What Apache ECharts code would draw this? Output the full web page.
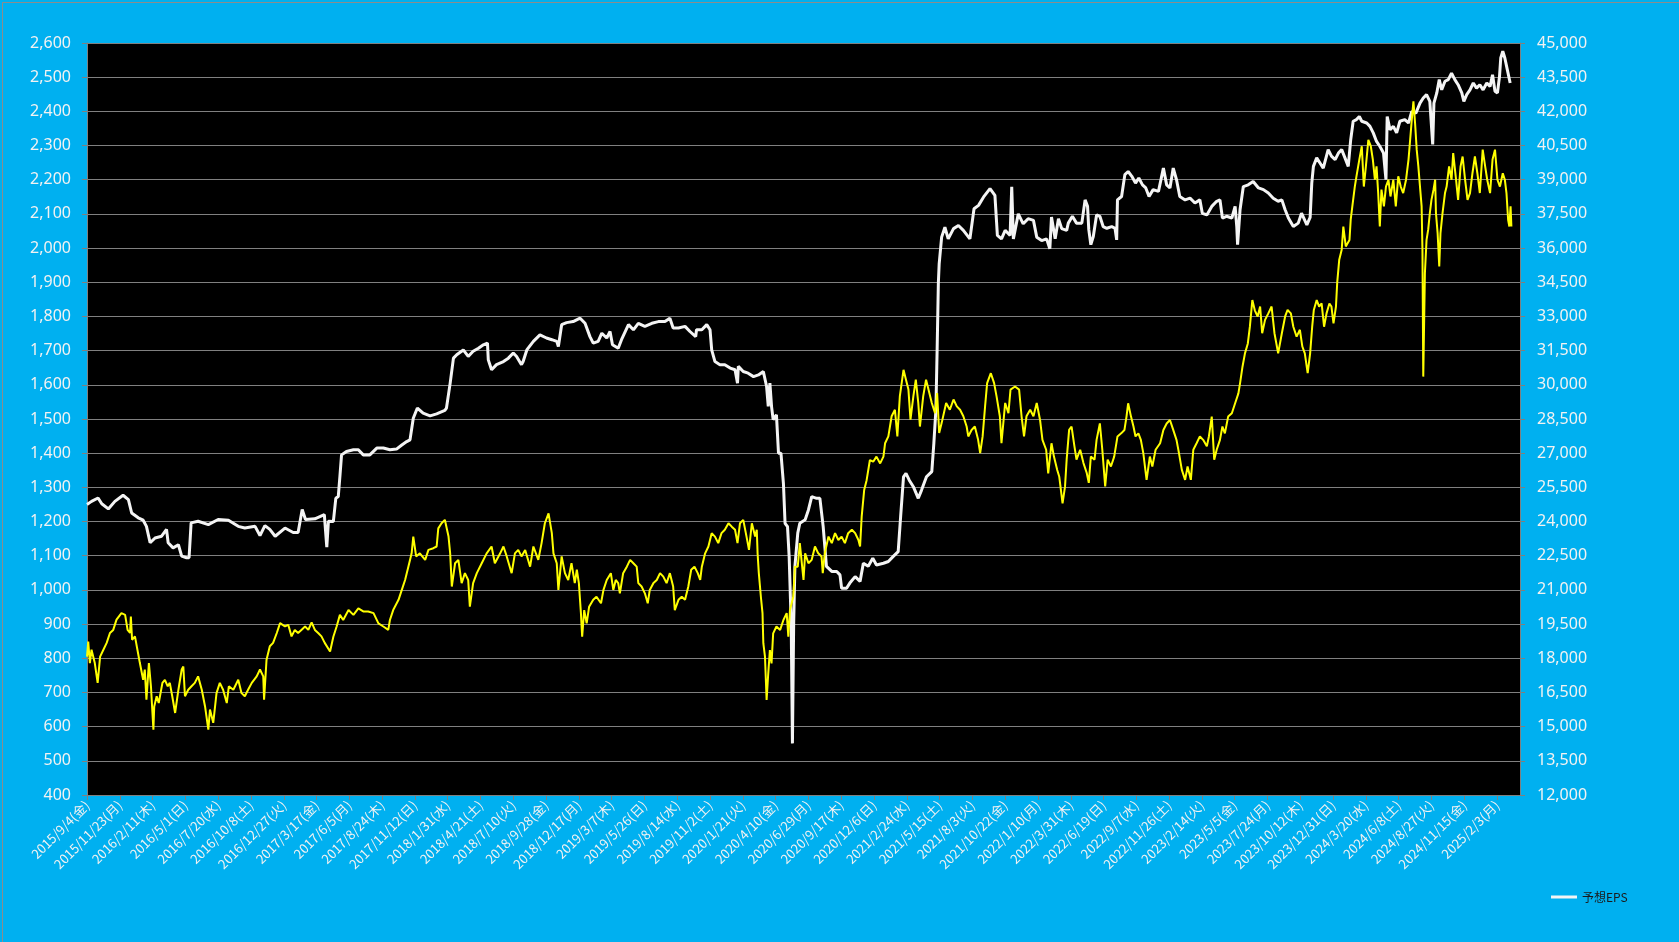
<!DOCTYPE html>
<html>
<head>
<meta charset="utf-8">
<script src="https://cdn.jsdelivr.net/npm/echarts@6/dist/echarts.min.js"></script>
<style>
html,body{margin:0;padding:0;background:#00b0f0;}
#c{width:1679px;height:942px;}
</style>
</head>
<body>
<div id="c"></div>
<script>
// x values: days since 2015/9/4
const baseDate = [2015, 9, 4];
const weekdays = ['日','月','火','水','木','金','土'];
const xMax = 3496;
const xStep = 80;
const leftTicks = {min: 400, max: 2600, step: 100};
const rightTicks = {min: 12000, max: 45000, step: 1500};

// 予想EPS (left axis): [day, value]
const eps = [
[0,1250],[11,1259],[27,1269],[36,1252],[52,1237],[68,1259],[88,1277],[101,1264],[109,1225],[125,1211],[137,1204],[145,1186],[154,1138],[166,1152],[182,1157],[194,1177],[198,1138],[210,1123],[223,1132],[231,1099],[243,1094],[249,1094],[254,1196],[271,1201],[296,1191],[320,1206],[345,1204],[369,1186],[385,1181],[410,1186],[422,1159],[434,1188],[446,1177],[459,1157],[483,1181],[503,1168],[515,1168],[525,1235],[533,1206],[556,1208],[579,1220],[583,1222],[585,1125],[589,1201],[601,1200],
[607,1268],[613,1273],[617,1332],[621,1395],[633,1405],[650,1410],[662,1410],[674,1395],[690,1395],[707,1415],[723,1415],[739,1410],[755,1412],[768,1424],[780,1434],[788,1439],[796,1502],[806,1532],[820,1517],[837,1509],[853,1515],[873,1525],[877,1532],[886,1605],[894,1678],[902,1688],[918,1702],[930,1683],[942,1698],[955,1707],[967,1717],[977,1722],[979,1673],[987,1644],[999,1659],[1016,1668],[1028,1678],[1040,1693],[1048,1683],[1060,1659],[1064,1668],[1073,1702],[1089,1727],[1105,1746],[1121,1737],[1134,1732],[1146,1727],[1150,1712],[1158,1776],[1170,1782],[1186,1785],
[1203,1795],[1215,1780],[1227,1741],[1235,1722],[1247,1727],[1256,1751],[1268,1737],[1276,1756],[1282,1717],[1296,1707],[1304,1732],[1321,1776],[1333,1761],[1345,1780],[1361,1771],[1378,1780],[1394,1785],[1410,1785],[1422,1795],[1430,1766],[1443,1766],[1459,1771],[1471,1756],[1485,1741],[1487,1761],[1500,1761],[1512,1776],[1520,1761],[1524,1702],[1532,1668],[1544,1659],[1556,1659],[1569,1649],[1581,1644],[1587,1605],[1589,1654],[1601,1639],[1613,1634],[1626,1624],[1638,1629],[1650,1639],[1658,1595],[1662,1537],[1666,1605],[1670,1537],[1674,1498],[1682,1512],[1687,1400],[1693,1400],[1699,1312],[1703,1195],[1709,1185],[1713,1098],[1718,902],[1721,551],[1724,902],[1727,1068],[1734,1166],[1739,1195],[1752,1205],[1760,1234],[1768,1273],[1780,1268],[1788,1268],
[1796,1185],[1804,1069],[1817,1054],[1829,1054],[1837,1044],[1841,1005],[1853,1005],[1861,1020],[1874,1039],[1886,1025],[1894,1078],[1906,1069],[1917,1093],[1926,1073],[1943,1078],[1955,1083],[1967,1098],[1979,1112],[1985,1215],[1992,1331],[1998,1341],[2006,1321],[2016,1302],[2028,1268],[2036,1292],[2048,1331],[2061,1346],[2066,1429],[2071,1527],[2074,1702],[2077,1898],[2079,1954],[2082,1954],[2085,2032],[2093,2061],[2101,2027],[2114,2057],[2126,2066],[2138,2052],[2154,2027],[2164,2115],[2175,2125],[2187,2149],[2203,2174],[2215,2154],[2221,2037],[2231,2027],[2240,2052],[2252,2037],[2256,2179],[2260,2027],[2272,2100],[2284,2071],[2296,2086],[2309,2081],[2317,2032],[2329,2022],[2341,2027],[2349,1998],[2353,2091],[2362,2027],[2370,2086],[2378,2057],[2390,2052],
[2394,2073],[2404,2093],[2414,2073],[2427,2073],[2435,2141],[2441,2122],[2444,2054],[2449,2010],[2455,2034],[2463,2097],[2471,2093],[2479,2063],[2488,2058],[2500,2063],[2508,2058],[2512,2024],[2514,2141],[2524,2151],[2532,2215],[2540,2224],[2549,2210],[2558,2190],[2566,2205],[2575,2185],[2583,2176],[2591,2151],[2601,2171],[2614,2166],[2626,2234],[2634,2185],[2642,2176],[2650,2234],[2658,2200],[2666,2151],[2679,2141],[2691,2146],[2703,2132],[2715,2141],[2721,2102],[2732,2097],[2744,2122],[2756,2137],[2764,2141],[2770,2088],[2780,2093],[2793,2088],[2801,2122],[2805,2063],[2807,2010],[2813,2112],[2821,2180],[2833,2185],[2845,2195],[2858,2176],[2870,2171],[2882,2161],[2894,2146],[2906,2137],[2915,2141],[2923,2112],[2931,2088],[2943,2063],[2955,2073],[2963,2102],[2976,2068],[2984,2090],
[2988,2190],[2992,2239],[3000,2264],[3008,2249],[3016,2234],[3028,2288],[3036,2269],[3045,2259],[3053,2278],[3061,2288],[3069,2264],[3077,2239],[3083,2317],[3089,2371],[3097,2376],[3104,2385],[3110,2371],[3122,2366],[3130,2356],[3138,2337],[3146,2312],[3154,2298],[3163,2278],[3169,2200],[3172,2385],[3179,2346],[3187,2356],[3195,2337],[3203,2371],[3215,2376],[3224,2366],[3232,2400],[3242,2395],[3252,2424],[3260,2439],[3268,2449],[3276,2429],[3283,2303],[3286,2424],[3293,2454],[3299,2493],[3305,2463],[3313,2488],[3321,2493],[3329,2512],[3337,2493],[3345,2478],[3354,2454],[3359,2429],[3366,2449],[3374,2463],[3382,2483],[3390,2468],[3398,2478],[3406,2463],[3415,2483],[3423,2473],[3429,2507],[3435,2459],[3441,2454],[3446,2502],[3449,2556],[3454,2576],[3459,2556],[3465,2522],[3472,2483]
];

// 日経平均 (right axis): [day, value]
const nikkei = [
[0,18075],[3,18735],[7,17790],[11,18375],[19,17790],[26,16920],[32,18075],[40,18375],[48,18675],[56,19110],[64,19245],[72,19695],[84,19980],[93,19905],[99,19245],[105,19110],[107,19830],[110,18810],[117,18960],[123,18375],[129,17790],[137,17055],[141,17505],[145,16185],[151,17790],[156,16770],[162,14865],[164,15885],[170,16335],[175,16035],[184,16920],[190,17055],[197,16770],[202,16920],[208,16335],[215,15600],[223,16620],[231,17505],[235,17640],[239,16335],[247,16620],[255,16770],[263,16920],[271,17205],[280,16620],[288,15885],[296,14865],[300,15750],[308,15165],[316,16470],[324,16920],[332,16620],[341,16035],[346,16770],[357,16620],[369,17055],[377,16470],[385,16335],[393,16620],[402,16920],[414,17205],[422,17505],[430,17205],[432,16185],[438,17940],[446,18525],[454,18675],[463,19110],[471,19545],[483,19395],[491,19470],[499,18960],[507,19245],[515,19110],[523,19245],[532,19395],[540,19245],[548,19575],[556,19245],[564,19110],[572,18960],[580,18675],[593,18300],
[601,18945],[609,19395],[617,19905],[625,19680],[638,20115],[650,19905],[662,20190],[674,20055],[686,20055],[699,19980],[711,19530],[723,19395],[735,19245],[739,19680],[747,20115],[760,20565],[768,21000],[776,21435],[784,22020],[792,22605],[796,23340],[803,22470],[812,22605],[825,22320],[833,22755],[845,22830],[853,22905],[857,23700],[865,23925],[873,24075],[882,23340],[886,22605],[890,21150],[898,22170],[906,22320],[914,21300],[922,21735],[930,21435],[934,20265],[942,21300],[951,21735],[963,22170],[975,22605],[987,22905],[995,22170],[1008,22605],[1016,22905],[1024,22470],[1036,21735],[1044,22605],[1052,22755],[1060,22470],[1069,22755],[1081,22020],[1089,22905],[1101,22320],[1109,23055],[1117,23925],[1126,24360],[1134,23490],[1138,22605],[1146,22170],[1150,21000],[1158,22470],[1166,21735],[1174,21435],[1182,22170],[1190,21300],
[1195,21885],[1200,21300],[1205,19980],[1208,18945],[1213,20115],[1219,19530],[1225,20265],[1235,20565],[1243,20700],[1254,20415],[1260,21000],[1268,21435],[1278,21735],[1284,21000],[1290,21435],[1296,21300],[1300,20850],[1308,21735],[1317,22020],[1325,22320],[1333,22170],[1341,22020],[1345,21300],[1353,21150],[1361,20850],[1368,20415],[1373,21000],[1382,21300],[1390,21435],[1398,21735],[1406,21585],[1414,21300],[1422,21735],[1430,21150],[1434,20115],[1443,20565],[1451,20700],[1459,20565],[1467,21150],[1474,21885],[1482,22020],[1490,21735],[1496,21435],[1500,22020],[1508,22605],[1516,22905],[1524,23490],[1532,23340],[1540,23055],[1548,23490],[1556,23640],[1565,23925],[1573,23775],[1581,23640],[1587,23055],[1593,23925],[1601,24075],[1609,23340],[1615,22755],[1622,23925],[1630,23340],[1634,23640],[1636,22605],[1639,21735],[1644,20700],[1648,19980],[1650,18660],[1654,18075],[1658,16170],[1662,17340],[1666,18360],[1670,17775],[1674,19095],[1682,19395],[1691,19245],[1699,19680],[1707,19980],[1711,18945],[1715,20115],[1723,20700],[1727,22020],[1734,22020],[1739,23055],[1748,21435],[1752,22605],[1760,22170],[1768,22320],[1776,22905],[1784,22605],[1792,22470],
[1795,21735],[1800,22620],[1809,23340],[1817,23055],[1825,23490],[1833,23190],[1841,23340],[1849,23055],[1857,23490],[1866,23640],[1874,23490],[1882,23190],[1886,22905],[1890,24225],[1896,25380],[1902,25815],[1910,26700],[1918,26625],[1926,26850],[1935,26550],[1943,26850],[1947,27435],[1955,27735],[1963,28620],[1971,28905],[1977,27735],[1983,29490],[1992,30660],[1998,30225],[2004,29790],[2009,28470],[2016,29490],[2022,30225],[2028,29205],[2032,28170],[2040,29490],[2047,30225],[2055,29640],[2061,29205],[2069,28755],[2074,29640],[2079,27885],[2085,28320],[2096,29205],[2105,28905],[2114,29355],[2122,29055],[2130,28905],[2138,28620],[2146,28170],[2150,27735],[2158,28020],[2166,28170],[2174,27585],[2179,27000],[2185,27735],[2191,29055],[2196,30075],[2205,30510],[2213,30075],[2219,29490],[2227,28620],[2231,27435],[2240,29205],[2248,28755],[2253,29790],[2264,29925],[2274,29790],[2280,28620],[2286,27735],[2292,28620],[2301,28905],[2309,28620],[2317,29205],[2325,28470],[2331,27585],[2340,27150],[2345,26115],[2353,27435],[2359,26850],[2367,26265],[2372,25965],[2380,24795],[2386,25530],
[2390,26715],[2396,28020],[2402,28170],[2409,27300],[2414,26715],[2423,27150],[2431,26565],[2439,26130],[2444,25695],[2449,26850],[2458,26715],[2463,27585],[2471,28305],[2477,27150],[2484,25545],[2490,26715],[2498,26415],[2506,26850],[2514,27735],[2523,27870],[2531,28020],[2536,28605],[2540,29190],[2547,28605],[2553,28170],[2558,27735],[2565,27870],[2571,27585],[2577,27000],[2585,25830],[2593,26850],[2599,26415],[2607,27150],[2618,27435],[2626,28020],[2634,28305],[2642,28455],[2650,28020],[2658,27585],[2664,27000],[2671,26265],[2679,25830],[2685,26415],[2693,25830],[2699,27150],[2707,27435],[2715,27735],[2723,27585],[2732,27300],[2737,27735],[2744,28605],[2750,26715],[2756,27150],[2764,27585],[2770,28170],[2776,27870],[2784,28605],[2793,28755],[2801,29190],[2809,29625],[2813,30060],[2819,30795],[2825,31380],[2832,31815],[2837,32550],[2843,33720],[2849,33270],[2856,33000],[2862,33435],[2867,32265],[2874,32850],[2882,33135],[2890,33435],[2897,32265],[2906,31380],[2915,32265],[2923,33000],[2929,33285],[2937,33135],[2943,32550],[2951,32115],[2959,32415],[2965,31680],[2971,31380],[2978,30510],[2984,31380],[2989,32550],
[2993,33285],[3000,33720],[3006,33435],[3012,33570],[3018,32550],[3024,33135],[3031,33570],[3036,33435],[3041,32700],[3047,33435],[3050,34470],[3055,35490],[3061,35925],[3065,36945],[3071,36075],[3080,36360],[3083,37245],[3088,37980],[3093,38700],[3097,39150],[3104,39885],[3110,40470],[3115,38700],[3120,39585],[3126,40755],[3132,40470],[3137,39885],[3142,39000],[3146,39585],[3150,38415],[3154,36945],[3158,38565],[3164,37830],[3169,38700],[3175,39000],[3180,38265],[3187,39000],[3193,37830],[3199,39150],[3205,38700],[3211,38415],[3218,39000],[3224,39885],[3228,40755],[3232,41640],[3236,42435],[3240,41490],[3244,40320],[3248,39585],[3252,38700],[3256,37830],[3258,35925],[3260,30360],[3264,34905],[3268,36360],[3272,36810],[3276,37530],[3280,38115],[3285,38565],[3289,39000],[3291,37530],[3295,36660],[3299,35190],[3302,36660],[3307,37530],[3313,38415],[3317,38700],[3323,39585],[3329,39000],[3333,40170],[3340,39000],[3345,38115],[3351,39585],[3356,40020],[3362,39000],[3368,38115],[3374,38415],[3380,39285],[3386,40020],[3392,39285],[3398,38415],[3405,40320],[3411,39585],[3416,39000],[3423,38415],[3429,39885],[3435,40320],[3441,39000],[3447,38700],[3454,39285],[3459,39000],[3463,38415],[3467,37245],[3470,36945],[3473,37830],[3475,36945]
];

function dayLabel(d) {
  const t = new Date(Date.UTC(baseDate[0], baseDate[1] - 1, baseDate[2]) + d * 86400000);
  return t.getUTCFullYear() + '/' + (t.getUTCMonth() + 1) + '/' + t.getUTCDate() + '(' + weekdays[t.getUTCDay()] + ')';
}
const fmtNum = v => v.toLocaleString('en-US');

const chart = echarts.init(document.getElementById('c'), null, {renderer: 'canvas'});
const gray = '#808080';
const labelColor = '#f2f2f2';
chart.setOption({
  animation: false,
  backgroundColor: '#00b0f0',
  textStyle: {fontFamily: '"Noto Sans", "Noto Sans CJK JP", sans-serif'},
  graphic: [{
    type: 'rect', left: 0, top: 0, z: 100, silent: true,
    shape: {x: 0.5, y: 0.5, width: 1678, height: 941},
    style: {fill: 'none', stroke: '#8c8c8c', lineWidth: 1}
  }],
  grid: {left: 87, right: 159, top: 43, bottom: 147, show: true, backgroundColor: '#000000', borderWidth: 0},
  legend: {
    data: [{name: '予想EPS', icon: 'rect'}],
    left: 1546, top: 886,
    itemWidth: 26, itemHeight: 3, itemGap: 4,
    textStyle: {color: '#1b1b1b', fontSize: 12, fontFamily: '"Noto Sans CJK JP", sans-serif'}
  },
  xAxis: {
    type: 'value', min: 0, max: xMax, interval: xStep,
    axisLine: {show: true, lineStyle: {color: gray, width: 1}},
    axisTick: {show: true, length: 5, lineStyle: {color: gray}},
    splitLine: {show: false},
    axisLabel: {
      rotate: 45, color: labelColor, fontSize: 13, margin: 8,
      fontFamily: '"Noto Sans CJK JP", sans-serif',
      showMaxLabel: false, showMinLabel: true,
      formatter: v => dayLabel(v)
    }
  },
  yAxis: [{
    type: 'value', position: 'left',
    min: leftTicks.min, max: leftTicks.max, interval: leftTicks.step,
    axisLine: {show: true, lineStyle: {color: gray, width: 1}},
    axisTick: {show: true, length: 5, lineStyle: {color: gray}},
    splitLine: {show: true, lineStyle: {color: gray, width: 1.2}},
    axisLabel: {color: labelColor, fontSize: 16, margin: 16, formatter: fmtNum}
  }, {
    type: 'value', position: 'right',
    min: rightTicks.min, max: rightTicks.max, interval: rightTicks.step,
    axisLine: {show: true, lineStyle: {color: gray, width: 1}},
    axisTick: {show: true, length: 5, lineStyle: {color: gray}},
    splitLine: {show: false},
    axisLabel: {color: labelColor, fontSize: 16, margin: 17, formatter: fmtNum}
  }],
  series: [{
    name: '予想EPS', type: 'line', yAxisIndex: 0, data: eps,
    showSymbol: false, symbol: 'none', z: 2,
    lineStyle: {color: '#f4f4f4', width: 3},
    itemStyle: {color: '#f4f4f4'}
  }, {
    name: '日経平均', type: 'line', yAxisIndex: 1, data: nikkei,
    showSymbol: false, symbol: 'none', z: 3,
    lineStyle: {color: '#ffff00', width: 2},
    itemStyle: {color: '#ffff00'}
  }]
});
</script>
</body>
</html>
